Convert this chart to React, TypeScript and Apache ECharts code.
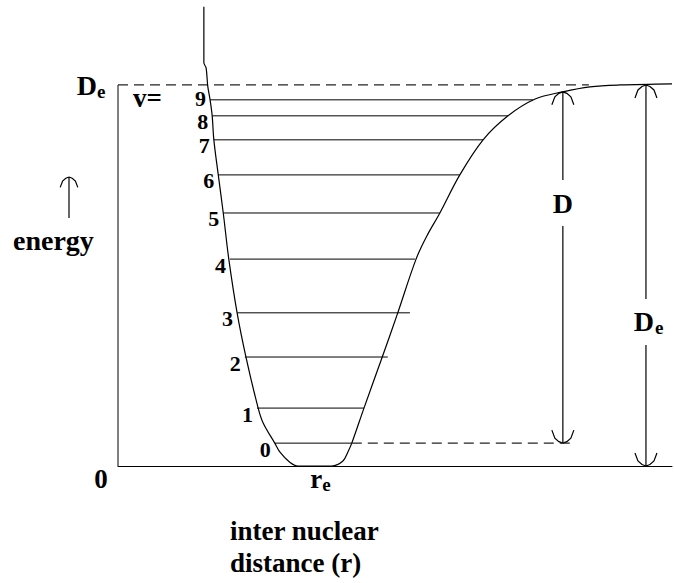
import React, { useEffect, useRef } from "react";
import * as echarts from "echarts";

// ---- data (r in arbitrary distance units, energy in units where De = 10) ----
const dissociationEnergy = 10;
const rMax = 10;
const eMax = 12.23;

const curveR = [1.55, 1.55, 1.59, 1.62, 1.66, 1.70, 1.73, 1.81, 1.90, 2.00, 2.15, 2.31, 2.53, 2.62, 2.83, 2.92, 3.10, 3.25, 3.56, 3.86, 4.06, 4.15, 4.22, 4.44, 4.77, 5.05, 5.38, 5.58, 5.81, 6.17, 6.59, 7.04, 7.53, 8.03, 8.52, 9.06, 10.0];
const curveE = [12.05, 10.58, 10.45, 9.97, 9.63, 9.19, 8.56, 7.64, 6.64, 5.43, 4.02, 2.86, 1.52, 1.13, 0.60, 0.37, 0.10, 0.0, 0.0, 0.0, 0.13, 0.37, 0.60, 1.52, 2.86, 4.02, 5.43, 6.05, 6.64, 7.64, 8.56, 9.19, 9.63, 9.82, 9.95, 10.0, 10.03];

const levelNumbers = [0, 1, 2, 3, 4, 5, 6, 7, 8, 9];
const levelEnergy = [0.60, 1.52, 2.86, 4.02, 5.43, 6.64, 7.64, 8.56, 9.19, 9.61];
const levelLeftR = [2.83, 2.51, 2.29, 2.15, 2.02, 1.90, 1.81, 1.73, 1.70, 1.66];
const levelRightR = [4.22, 4.44, 4.87, 5.27, 5.36, 5.81, 6.17, 6.59, 7.04, 7.49];

const equilibriumR = 3.56; // r_e
const deLineEndR = 8.5;
const zeroLevelDashEndR = 8.16;

// arrows: D (from v=0 to dissociation) and De (from bottom to dissociation)
const arrowR = [8.03, 9.53];
const arrowTopE = [9.82, 10.0];
const arrowBottomE = [0.60, 0.0];
const arrowLabelE = [6.9, 3.78];
const arrowLabelMain = ["D", "D"];
const arrowLabelSub = ["", "e"];

const FONT = '"Liberation Serif", "Times New Roman", serif';

function headPoints(x: number, y: number, dir: number, k = 1) {
  // dir = 1: pointing up (tip at top), -1: pointing down
  const s = dir;
  const left = [[x - 11 * k, y + s * 13 * k], [x - 8 * k, y + s * 5 * k], [x - 4 * k, y + s * 1.5 * k], [x, y]];
  const right = [[x, y], [x + 4 * k, y + s * 1.5 * k], [x + 8 * k, y + s * 5 * k], [x + 11 * k, y + s * 13 * k]];
  return [left, right];
}

export default function App() {
  const ref = useRef<HTMLDivElement>(null);
  useEffect(() => {
    if (!ref.current) return;
    const chart = echarts.init(ref.current, undefined, { renderer: "svg" });
    const black = "#000";
    const levelData = levelNumbers.map((n, i) => [levelLeftR[i], levelRightR[i], levelEnergy[i], n]);
    const arrowData = arrowR.map((r, i) => [r, arrowTopE[i], arrowBottomE[i], arrowLabelE[i], i]);
    const topLevel = levelNumbers[levelNumbers.length - 1];
    const upHead = headPoints(69, 177, 1, 0.8);

    const option: any = {
      animation: false,
      backgroundColor: "#fff",
      grid: { left: 118, right: 2, top: 0, bottom: 117 },
      xAxis: {
        type: "value", min: 0, max: rMax,
        axisLine: { show: true, onZero: false, lineStyle: { color: black, width: 1 } },
        axisTick: { show: false }, axisLabel: { show: false }, splitLine: { show: false },
      },
      yAxis: {
        type: "value", min: 0, max: eMax,
        axisLine: { show: false }, axisTick: { show: false }, axisLabel: { show: false }, splitLine: { show: false },
      },
      series: [
        {
          type: "line", data: [[0, 0], [0, dissociationEnergy]], symbol: "none", silent: true,
          lineStyle: { color: black, width: 1 },
        },
        {
          type: "line", data: [[0, dissociationEnergy], [deLineEndR, dissociationEnergy]], symbol: "none", silent: true,
          lineStyle: { color: "#222", width: 1.2, type: [10, 6] },
        },
        {
          type: "line", data: [[levelRightR[0], levelEnergy[0]], [zeroLevelDashEndR, levelEnergy[0]]], symbol: "none", silent: true,
          lineStyle: { color: "#222", width: 1.2, type: [10, 6] },
        },
        {
          type: "line", data: curveR.map((r, i) => [r, curveE[i]]), symbol: "none", smooth: 0.35,
          clip: false, silent: true, lineStyle: { color: black, width: 1.2 },
        },
        {
          type: "custom", data: levelData, clip: false, silent: true,
          renderItem: (_p: any, api: any) => {
            const a = api.coord([api.value(0), api.value(2)]);
            const b = api.coord([api.value(1), api.value(2)]);
            const n = api.value(3);
            const dy = n === topLevel ? -1 : 6;
            return {
              type: "group",
              children: [
                { type: "line", shape: { x1: a[0], y1: a[1], x2: b[0], y2: b[1] }, style: { stroke: black, lineWidth: 1 } },
                {
                  type: "text",
                  style: { text: String(n), x: a[0] - 4, y: a[1] + dy, align: "right", verticalAlign: "middle", font: `bold 22px ${FONT}`, fill: black },
                },
              ],
            };
          },
        },
        {
          type: "custom", data: arrowData, clip: false, silent: true,
          renderItem: (_p: any, api: any) => {
            const idx = api.value(4);
            const top = api.coord([api.value(0), api.value(1)]);
            const bot = api.coord([api.value(0), api.value(2)]);
            const mid = api.coord([api.value(0), api.value(3)]);
            const x = top[0];
            const gap = 23;
            const [ul, ur] = headPoints(x, top[1], 1);
            const [dl, dr] = headPoints(x, bot[1], -1);
            const ls = { stroke: black, lineWidth: 1.2, fill: "none" };
            const sub = arrowLabelSub[idx];
            const children: any[] = [
              { type: "line", shape: { x1: x, y1: top[1], x2: x, y2: mid[1] - gap }, style: ls },
              { type: "line", shape: { x1: x, y1: mid[1] + gap, x2: x, y2: bot[1] }, style: ls },
              { type: "polyline", shape: { points: ul }, style: ls },
              { type: "polyline", shape: { points: ur }, style: ls },
              { type: "polyline", shape: { points: dl }, style: ls },
              { type: "polyline", shape: { points: dr }, style: ls },
              {
                type: "text",
                style: { text: arrowLabelMain[idx], x: x - (sub ? 2 : 0), y: mid[1], align: "center", verticalAlign: "middle", font: `bold 28px ${FONT}`, fill: black },
              },
            ];
            if (sub) {
              children.push({
                type: "text",
                style: { text: sub, x: x + 9, y: mid[1] + 6, align: "left", verticalAlign: "middle", font: `bold 19px ${FONT}`, fill: black },
              });
            }
            return { type: "group", children };
          },
        },
        {
          type: "custom", data: [[equilibriumR, 0]], clip: false, silent: true,
          renderItem: (_p: any, api: any) => {
            const p = api.coord([api.value(0), api.value(1)]);
            return {
              type: "group",
              children: [
                { type: "text", style: { text: "r", x: p[0] + 7, y: p[1] + 13, align: "right", verticalAlign: "middle", font: `bold 27px ${FONT}`, fill: black } },
                { type: "text", style: { text: "e", x: p[0] + 7, y: p[1] + 18, align: "left", verticalAlign: "middle", font: `bold 19px ${FONT}`, fill: black } },
              ],
            };
          },
        },
      ],
      graphic: [
        { type: "text", style: { text: "D", x: 97, y: 85, align: "right", verticalAlign: "middle", font: `bold 28px ${FONT}`, fill: black } },
        { type: "text", style: { text: "e", x: 97, y: 91, align: "left", verticalAlign: "middle", font: `bold 19px ${FONT}`, fill: black } },
        { type: "text", style: { text: "v=", x: 133, y: 98, align: "left", verticalAlign: "middle", font: `bold 27px ${FONT}`, fill: black } },
        { type: "text", style: { text: "energy", x: 13, y: 240, align: "left", verticalAlign: "middle", font: `bold 28px ${FONT}`, fill: black } },
        { type: "line", shape: { x1: 69, y1: 218, x2: 69, y2: 177 }, style: { stroke: black, lineWidth: 1.2 } },
        { type: "polyline", shape: { points: upHead[0] }, style: { stroke: black, lineWidth: 1.2, fill: "none" } },
        { type: "polyline", shape: { points: upHead[1] }, style: { stroke: black, lineWidth: 1.2, fill: "none" } },
        { type: "text", style: { text: "0", x: 101, y: 479, align: "center", verticalAlign: "middle", font: `bold 27px ${FONT}`, fill: black } },
        { type: "text", style: { text: "inter nuclear", x: 230, y: 531, align: "left", verticalAlign: "middle", font: `bold 27px ${FONT}`, fill: black } },
        { type: "text", style: { text: "distance (r)", x: 230, y: 563, align: "left", verticalAlign: "middle", font: `bold 27px ${FONT}`, fill: black } },
      ],
    };
    chart.setOption(option);
    return () => chart.dispose();
  }, []);
  return <div ref={ref} style={{ position: "fixed", left: 0, top: 0, width: 674, height: 583, background: "#fff" }} />;
}
